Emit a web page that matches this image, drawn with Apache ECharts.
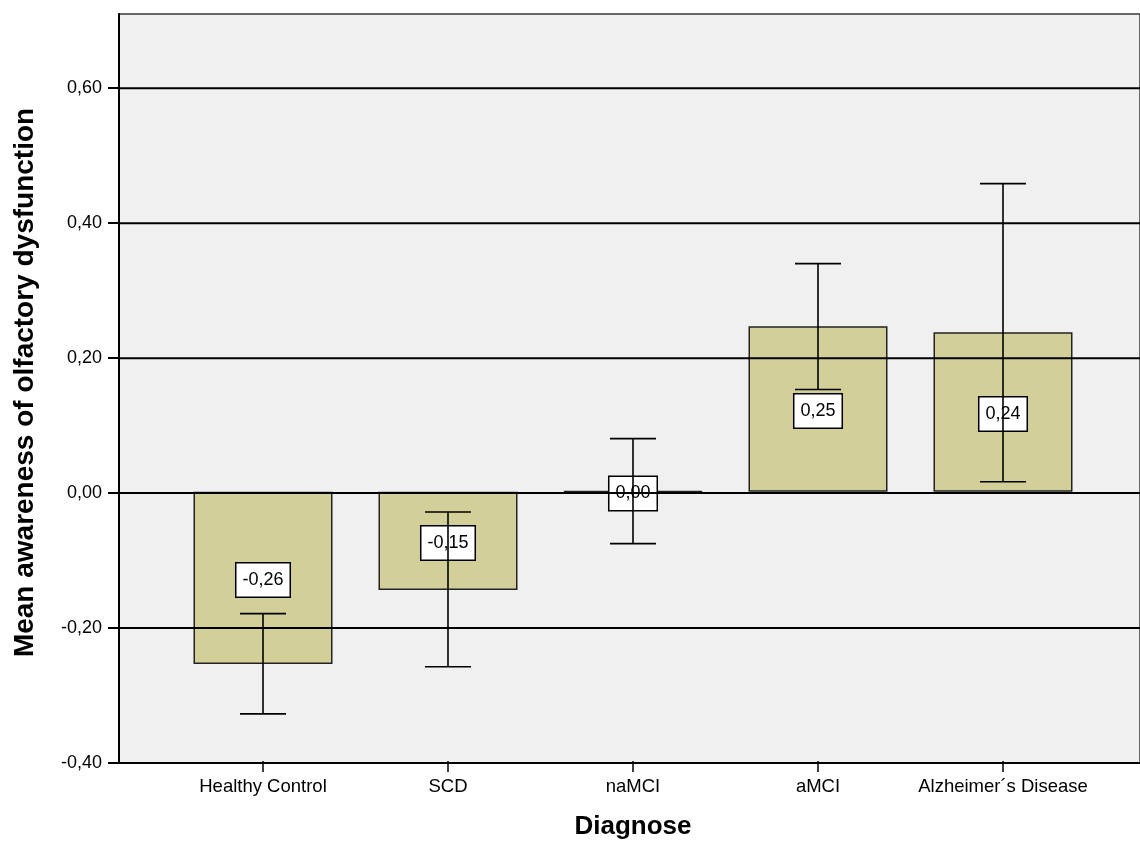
<!DOCTYPE html>
<html>
<head>
<meta charset="utf-8">
<script src="https://cdn.jsdelivr.net/npm/echarts@6/dist/echarts.min.js"></script>
<style>
html,body{margin:0;padding:0;background:#fff;}
#chart{width:1140px;height:845px;}
</style>
</head>
<body>
<div id="chart"></div>
<script>
// ---- data ----
const categories = ['Healthy Control', 'SCD', 'naMCI', 'aMCI', 'Alzheimer\u00b4s Disease'];
const means = [-0.256, -0.146, 0.001, 0.246, 0.237];
const errLow = [-0.330, -0.260, -0.077, 0.152, 0.015];
const errHigh = [-0.181, -0.030, 0.079, 0.339, 0.458];
const yTicks = [-0.4, -0.2, 0.0, 0.2, 0.4, 0.6];
const gridLineValues = [-0.2, 0.0, 0.2, 0.4, 0.6];
const yMin = -0.4, yMax = 0.71;

const FONT = "'Liberation Sans', Arial, Helvetica, sans-serif";
const fmt = v => v.toFixed(2).replace('.', ',');

const chart = echarts.init(document.getElementById('chart'), null, {renderer: 'canvas'});

const option = {
  animation: false,
  backgroundColor: '#ffffff',
  grid: [
    {left: 119, top: 14, height: 749, right: -12, show: true, backgroundColor: '#f0f0f0', borderColor: '#3a3a3a', borderWidth: 1.5},
    {left: 170.5, top: 14, height: 749, width: 925}
  ],
  xAxis: [
    {gridIndex: 0, type: 'value', min: 0, max: 1,
      axisLine: {show: true, onZero: false, lineStyle: {color: '#000', width: 2}},
      axisTick: {show: false}, axisLabel: {show: false}, splitLine: {show: false}},
    {gridIndex: 1, type: 'category', data: categories, boundaryGap: true,
      axisLine: {show: false, onZero: false},
      axisTick: {show: true, alignWithLabel: true, interval: 0, length: 11, lineStyle: {color: '#000', width: 1.5}},
      axisLabel: {interval: 0, margin: 16, color: '#000', fontSize: 18.5, fontFamily: FONT},
      name: 'Diagnose', nameLocation: 'middle', nameGap: 53,
      nameTextStyle: {fontSize: 26, fontWeight: 'bold', color: '#000', fontFamily: FONT}}
  ],
  yAxis: [
    {gridIndex: 0, type: 'value', min: yMin, max: yMax, interval: 0.2,
      axisLine: {show: true, onZero: false, lineStyle: {color: '#000', width: 2}},
      axisTick: {show: true, length: 11, customValues: yTicks, lineStyle: {color: '#000', width: 2}},
      axisLabel: {customValues: yTicks, margin: 17, color: '#000', fontSize: 18, fontFamily: FONT, formatter: v => fmt(v)},
      splitLine: {show: false},
      name: 'Mean awareness of olfactory dysfunction', nameLocation: 'middle', nameGap: 80, nameRotate: 90,
      nameTextStyle: {fontSize: 28, fontWeight: 'bold', color: '#000', fontFamily: FONT, padding: [0, 0, 0, 12]}},
    {gridIndex: 1, type: 'value', min: yMin, max: yMax, show: false, splitLine: {show: false}}
  ],
  series: [
    {
      type: 'bar', xAxisIndex: 1, yAxisIndex: 1, z: 2,
      data: means, barWidth: 139,
      itemStyle: {color: '#d3cf99', borderColor: '#222', borderWidth: 1.5}
    },
    {
      type: 'custom', xAxisIndex: 1, yAxisIndex: 1, z: 3,
      data: categories.map((c, i) => [i, means[i]]),
      renderItem: function (params, api) {
        const i = api.value(0), v = api.value(1);
        const pt = api.coord([i, v / 2]);
        return {
          type: 'text', x: pt[0], y: pt[1] + 2,
          style: {
            text: fmt(v), fill: '#000', fontSize: 18, fontFamily: FONT,
            align: 'center', verticalAlign: 'middle', lineHeight: 19,
            backgroundColor: '#fff', borderColor: '#000', borderWidth: 1.5, padding: [7, 6, 7, 6]
          }
        };
      }
    },
    {
      type: 'custom', xAxisIndex: 1, yAxisIndex: 1, z: 4,
      data: categories.map((c, i) => [i, errLow[i], errHigh[i]]),
      renderItem: function (params, api) {
        const i = api.value(0);
        const lo = api.coord([i, api.value(1)]);
        const hi = api.coord([i, api.value(2)]);
        const hw = 23;
        const st = {stroke: '#000', lineWidth: 1.6};
        return {
          type: 'group',
          children: [
            {type: 'line', shape: {x1: lo[0], y1: lo[1], x2: hi[0], y2: hi[1]}, style: st},
            {type: 'line', shape: {x1: lo[0] - hw, y1: lo[1], x2: lo[0] + hw, y2: lo[1]}, style: st},
            {type: 'line', shape: {x1: hi[0] - hw, y1: hi[1], x2: hi[0] + hw, y2: hi[1]}, style: st}
          ]
        };
      }
    },
    {
      type: 'custom', xAxisIndex: 0, yAxisIndex: 0, z: 5,
      data: gridLineValues.map(v => [0, v]),
      renderItem: function (params, api) {
        const cs = params.coordSys;
        const y = api.coord([0, api.value(1)])[1];
        return {type: 'line', shape: {x1: cs.x, y1: y, x2: cs.x + cs.width, y2: y}, style: {stroke: '#000', lineWidth: 2}};
      }
    }
  ]
};
chart.setOption(option);
</script>
</body>
</html>
